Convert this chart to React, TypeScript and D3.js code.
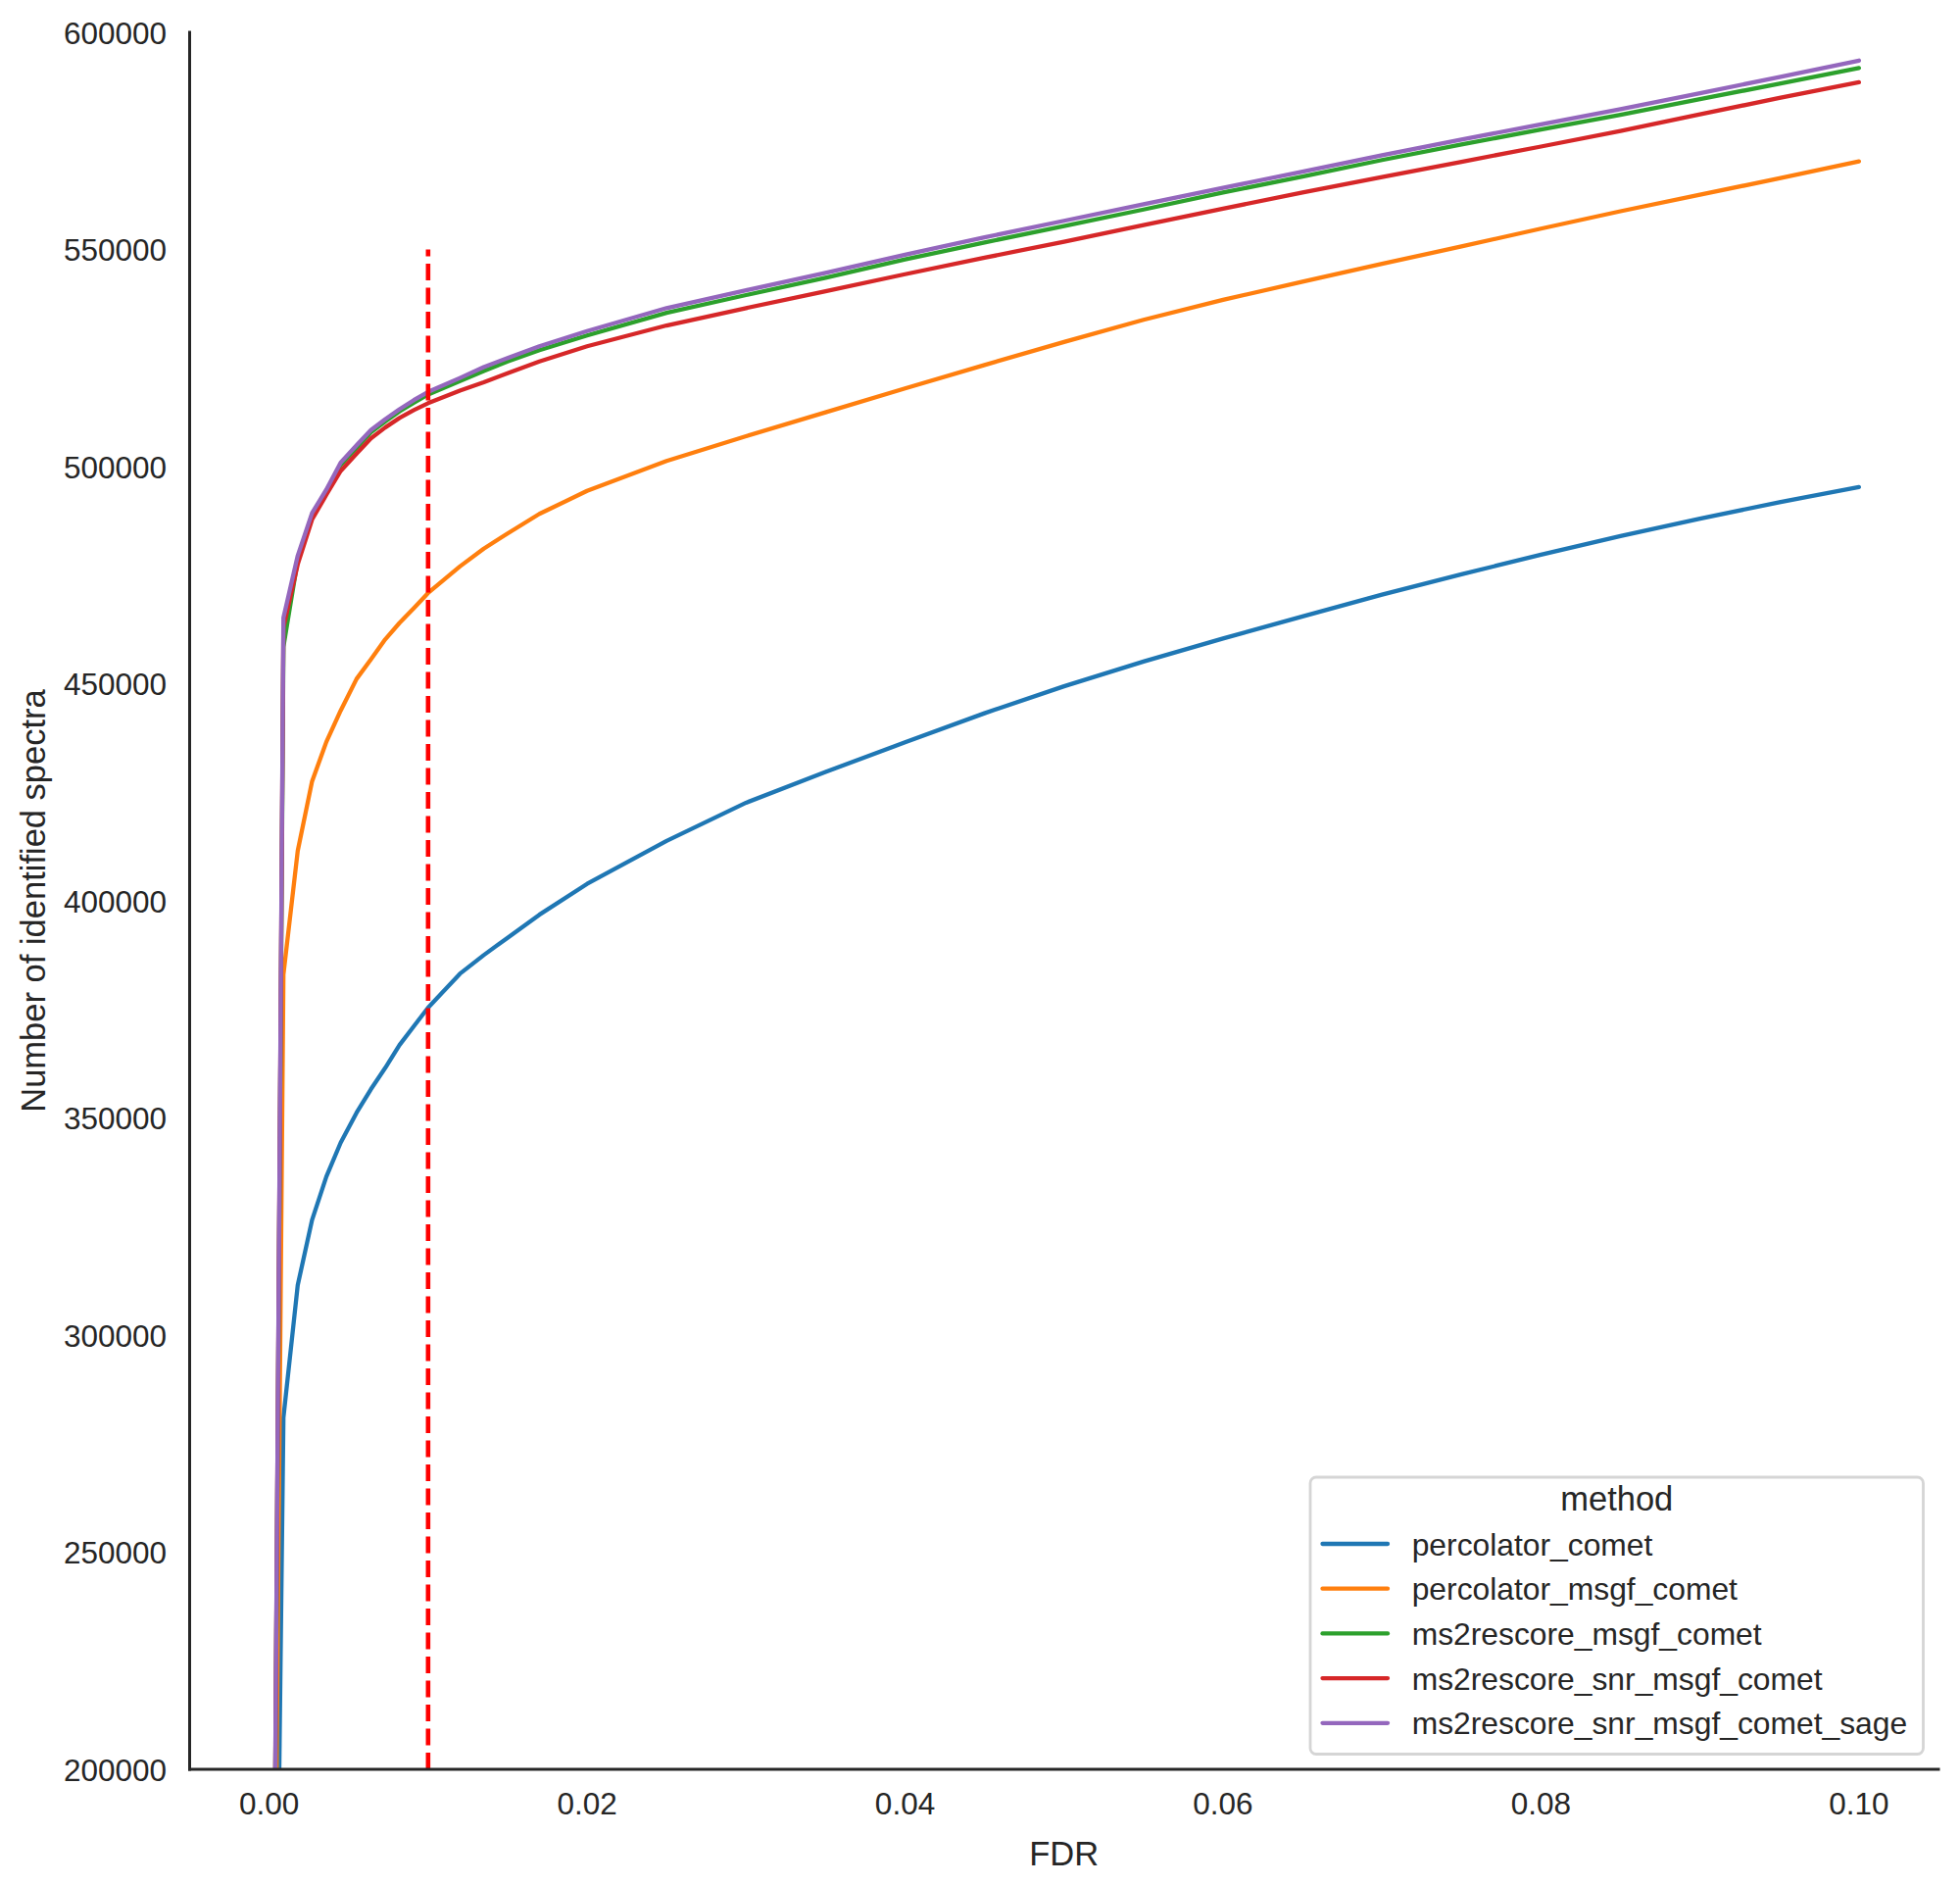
import * as d3 from "d3";
import { useEffect } from "react";

const width = 2000;
const height = 1922;
const margin = { top: 33, right: 22, bottom: 117, left: 193.5 };

// FDR grid shared by every method
const fdr = [
  0, 0.0009, 0.0018, 0.0027, 0.0036, 0.0045, 0.0055, 0.0064, 0.0073, 0.0082, 0.0091,
  0.01, 0.012, 0.0135, 0.015, 0.017, 0.02, 0.025, 0.03, 0.035, 0.04, 0.045, 0.05,
  0.055, 0.06, 0.065, 0.07, 0.075, 0.08, 0.085, 0.09, 0.095, 0.1,
];

// number of identified spectra, in thousands
const percolatorComet = [
  0, 281, 311.5, 326.5, 336.5, 344.3, 351.2, 356.6, 361.5, 366.8, 371.1,
  375.4, 383.2, 387.5, 391.5, 396.8, 403.9, 413.8, 422.6, 429.7, 436.5, 443.2, 449.4,
  455.1, 460.4, 465.5, 470.5, 475.2, 479.7, 484, 488, 491.8, 495.3,
];
const percolatorMsgfComet = [
  0, 383, 411.5, 427.5, 436.6, 443.8, 451.1, 455.6, 460.2, 464, 467.4,
  470.9, 477, 481.1, 484.6, 489.1, 494.4, 501.3, 507, 512.5, 518, 523.4, 528.7,
  533.8, 538.4, 542.6, 546.7, 550.7, 554.8, 558.8, 562.6, 566.4, 570.3,
];
const ms2rescoreMsgfComet = [
  0, 458.5, 478.5, 488.8, 494.2, 500.4, 504.3, 507.9, 510.4, 512.7, 514.7,
  516.6, 519.7, 522, 524.2, 526.8, 530.2, 535.4, 539.5, 543.5, 547.7, 551.6, 555.4,
  559.2, 563.1, 566.8, 570.6, 574.2, 577.6, 581, 584.6, 588.2, 591.8,
];
const ms2rescoreSnrMsgfComet = [
  0, 463, 477.5, 487.8, 493.5, 499, 503, 506.5, 509, 511.2, 513,
  514.6, 517.5, 519.4, 521.5, 524.2, 527.7, 532.5, 536.5, 540.4, 544.3, 548.1, 551.8,
  555.6, 559.4, 563.1, 566.7, 570.2, 573.7, 577.3, 581.1, 584.9, 588.5,
];
const ms2rescoreSnrMsgfCometSage = [
  0, 465.2, 479.5, 489.3, 494.7, 500.9, 504.9, 508.4, 510.9, 513.2, 515.3,
  517.2, 520.4, 522.9, 525, 527.7, 531.2, 536.5, 540.6, 544.6, 548.8, 552.8, 556.6,
  560.4, 564.2, 567.9, 571.7, 575.3, 578.8, 582.3, 586, 589.7, 593.5,
];

const methods = [
  "percolator_comet",
  "percolator_msgf_comet",
  "ms2rescore_msgf_comet",
  "ms2rescore_snr_msgf_comet",
  "ms2rescore_snr_msgf_comet_sage",
];
const seriesValues = [
  percolatorComet,
  percolatorMsgfComet,
  ms2rescoreMsgfComet,
  ms2rescoreSnrMsgfComet,
  ms2rescoreSnrMsgfCometSage,
];
const colors = ["#1f77b4", "#ff7f0e", "#2ca02c", "#d62728", "#9467bd"];

const yTicks = [200000, 250000, 300000, 350000, 400000, 450000, 500000, 550000, 600000];
const xTicks = [0, 0.02, 0.04, 0.06, 0.08, 0.1];

const fdrCutoff = 0.01;
const cutoffTop = 550000;

const textColor = "#262626";
const font = "'Liberation Sans', Arial, sans-serif";
const tickSize = 31.5;
const labelSize = 34.5;
const legendSize = 31.8;

export default function App() {
  useEffect(() => {
    document.body.style.margin = "0";
  }, []);

  const x = d3.scaleLinear([-0.005, 0.105], [margin.left, width - margin.right]);
  const y = d3.scaleLinear([200000, 600000], [height - margin.bottom, margin.top]);

  const line = d3
    .line<number>()
    .x((_, i) => x(fdr[i]))
    .y((v) => y(v * 1000));

  const left = x.range()[0];
  const right = x.range()[1];
  const bottom = y.range()[0];
  const top = y.range()[1];

  // legend box (lower right)
  const lgRight = right - 15.5;
  const lgBottom = bottom - 15.5;
  const lgLeft = 1337;
  const lgTop = 1507;
  const rowY = (i: number) => 1575 + i * 45.7;

  return (
    <svg width={width} height={height} style={{ display: "block", background: "#fff" }}>
      <defs>
        <clipPath id="plot">
          <rect x={left} y={top} width={right - left} height={bottom - top} />
        </clipPath>
      </defs>

      <g clipPath="url(#plot)">
        {seriesValues.map((vals, i) => (
          <path
            key={methods[i]}
            d={line(vals) ?? ""}
            fill="none"
            stroke={colors[i]}
            strokeWidth={4.3}
            strokeLinejoin="round"
            strokeLinecap="round"
          />
        ))}
        <line
          x1={x(fdrCutoff)}
          x2={x(fdrCutoff)}
          y1={y(200000)}
          y2={y(cutoffTop)}
          stroke="#ff0000"
          strokeWidth={4.6}
          strokeDasharray="17 7.5"
        />
      </g>

      {/* spines */}
      <line x1={left} x2={left} y1={top} y2={bottom} stroke={textColor} strokeWidth={3} strokeLinecap="square" />
      <line x1={left} x2={right} y1={bottom} y2={bottom} stroke={textColor} strokeWidth={3} strokeLinecap="square" />

      {/* y ticks */}
      {yTicks.map((t) => (
        <text
          key={t}
          x={left - 23.5}
          y={y(t) + 11.5}
          textAnchor="end"
          fontFamily={font}
          fontSize={tickSize}
          fill={textColor}
        >
          {d3.format("d")(t)}
        </text>
      ))}

      {/* x ticks */}
      {xTicks.map((t) => (
        <text
          key={t}
          x={x(t)}
          y={bottom + 45.5}
          textAnchor="middle"
          fontFamily={font}
          fontSize={tickSize}
          fill={textColor}
        >
          {d3.format(".2f")(t)}
        </text>
      ))}

      {/* axis labels */}
      <text
        x={(left + right) / 2}
        y={1903}
        textAnchor="middle"
        fontFamily={font}
        fontSize={labelSize}
        fill={textColor}
      >
        FDR
      </text>
      <text
        transform={`translate(46,${(top + bottom) / 2}) rotate(-90)`}
        textAnchor="middle"
        fontFamily={font}
        fontSize={labelSize}
        fill={textColor}
      >
        Number of identified spectra
      </text>

      {/* legend */}
      <rect
        x={lgLeft}
        y={lgTop}
        width={lgRight - lgLeft}
        height={lgBottom - lgTop}
        rx={6}
        fill="#ffffff"
        fillOpacity={0.8}
        stroke="#d5d5d5"
        strokeWidth={2.8}
      />
      <text
        x={(lgLeft + lgRight) / 2}
        y={1541}
        textAnchor="middle"
        fontFamily={font}
        fontSize={labelSize}
        fill={textColor}
      >
        method
      </text>
      {methods.map((m, i) => (
        <g key={m}>
          <line
            x1={1349.5}
            x2={1416}
            y1={rowY(i)}
            y2={rowY(i)}
            stroke={colors[i]}
            strokeWidth={4.3}
            strokeLinecap="round"
          />
          <text
            x={1440.7}
            y={rowY(i) + 11.5}
            fontFamily={font}
            fontSize={legendSize}
            fill={textColor}
          >
            {m}
          </text>
        </g>
      ))}
    </svg>
  );
}
